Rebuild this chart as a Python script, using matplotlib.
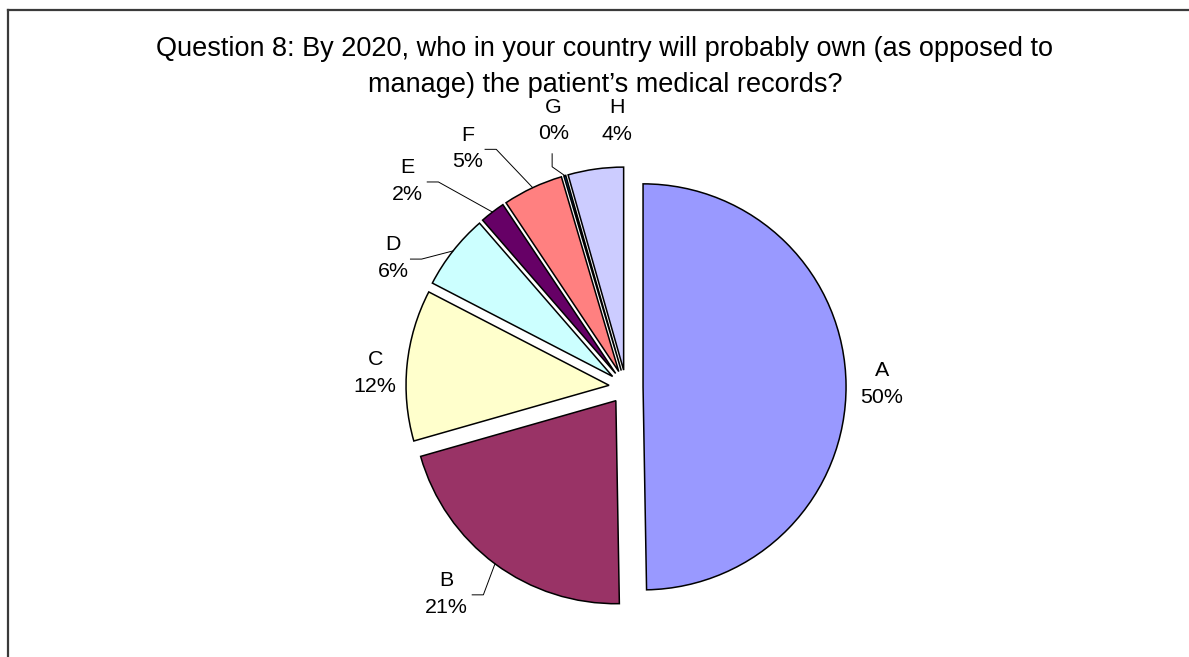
import numpy as np
import matplotlib
matplotlib.use("Agg")
import matplotlib.pyplot as plt
from matplotlib.lines import Line2D

plt.rcParams['font.family'] = ['Liberation Sans', 'DejaVu Sans']

# data
categories = ['A', 'B', 'C', 'D', 'E', 'F', 'G', 'H']
shares = [49.6, 20.8, 12.0, 6.0, 2.0, 4.8, 0.15, 4.4]
colors = ['#9999FF', '#993366', '#FFFFCC', '#CCFFFF', '#660066', '#FF8080', '#0066CC', '#CCCCFF']
title = ("Question 8: By 2020, who in your country will probably own (as opposed to\n"
         "manage) the patient\u2019s medical records?")

# layout: label polar position (radius, degrees) around pie centre, and leader style
lab_r = [1.261, 1.35, 1.238, 1.31, 1.48, 1.41, 1.36, 1.31]
lab_ang = [0.7, -131.0, 176.8, 151.0, 136.7, 123.5, 105.3, 92.0]
leader = [None, 'h', None, 'h', 'h', 'h', 'v', None]
lead_dx = [0, 0.128, 0, 0.084, 0.098, 0.084, 0, 0]

W, H = 1189, 657
R_PX = 203.0
CX, CY = 626, 387

fig = plt.figure(figsize=(W / 100, H / 100), dpi=100)
ax = fig.add_axes([0, 0, 1, 1])

total = sum(shares)
wedges, _ = ax.pie(shares, explode=[0.084] * len(shares), colors=colors,
                   startangle=90, counterclock=False, radius=1.0,
                   wedgeprops=dict(edgecolor='black', linewidth=1.1))

for i, w in enumerate(wedges):
    a = np.deg2rad(lab_ang[i])
    lx, ly = lab_r[i] * np.cos(a), lab_r[i] * np.sin(a)
    pct = shares[i] / total * 100
    ax.text(lx, ly, f"{categories[i]}\n{pct:.0f}%", ha='center', va='center',
            fontsize=15.4, linespacing=1.5, color='black')
    if leader[i] is None:
        continue
    mid = np.deg2rad((w.theta1 + w.theta2) / 2)
    sx = w.center[0] + w.r * np.cos(mid)
    sy = w.center[1] + w.r * np.sin(mid)
    if leader[i] == 'h':
        ex, ey = lx + lead_dx[i], ly - 0.005
        px = [ex, ex + 0.055, sx]
        py = [ey, ey, sy]
    else:
        ex, ey = lx - 0.005, ly - 0.163
        px = [ex, ex, sx]
        py = [ey, ey - 0.064, sy]
    ax.plot(px, py, color='black', linewidth=0.7)

ax.set_xlim(-CX / R_PX, (W - CX) / R_PX)
ax.set_ylim(-(H - CY) / R_PX, CY / R_PX)
ax.set_aspect('auto')
ax.axis('off')

fig.text(605 / W, 1 - 67 / H, title, ha='center', va='center',
         fontsize=19.5, linespacing=1.5)

# chart area frame (top and left edges visible)
fig.add_artist(Line2D([8 / W, 8 / W], [0, 1 - 10 / H], transform=fig.transFigure,
                      color='#3a3a3a', linewidth=1.6))
fig.add_artist(Line2D([8 / W, 1], [1 - 10 / H, 1 - 10 / H], transform=fig.transFigure,
                      color='#3a3a3a', linewidth=1.6))

fig.savefig('out.png', dpi=100)
